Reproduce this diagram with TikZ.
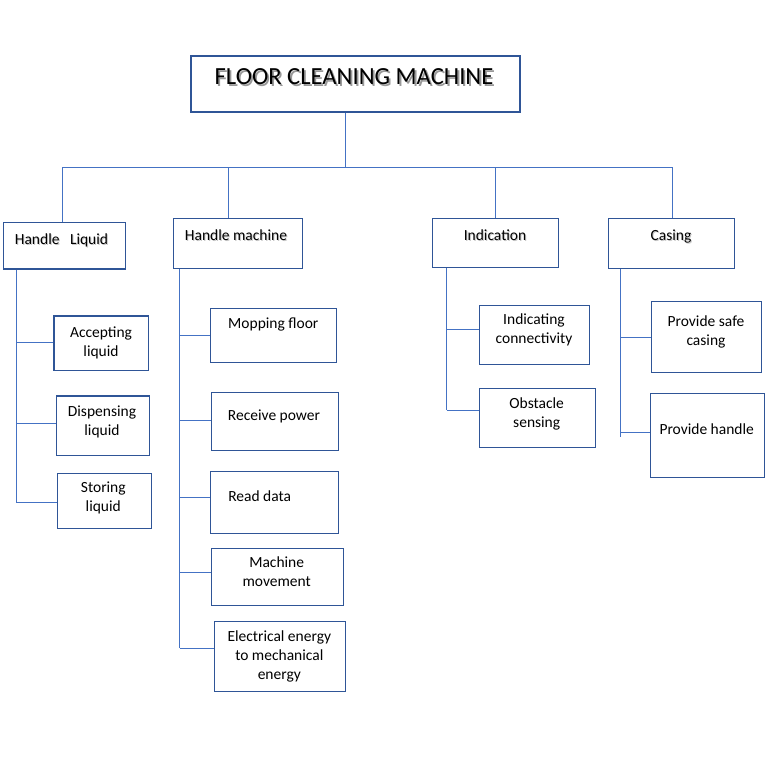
\documentclass[tikz,border=0pt]{standalone}
\usepackage{fontspec}
\setmainfont{Carlito}
\usetikzlibrary{fit}
\definecolor{boxblue}{HTML}{2F5597}
\definecolor{linkblue}{HTML}{4472C4}
\begin{document}
\begin{tikzpicture}[x=1pt,y=-1pt,
  box/.style={draw=boxblue, line width=1.1pt, inner sep=0pt, fit={#1}},
  link/.style={draw=linkblue, line width=1pt},
  lbl/.style={font=\fontsize{15.5}{19}\selectfont, align=center, anchor=base, inner sep=0pt},
  hdr/.style={lbl},
  hdrshadow/.style={lbl, text=black!22},
  ttl/.style={font=\fontsize{24.6}{28}\selectfont, anchor=base, inner sep=0pt},
  ttlshadow/.style={ttl, text=black!40}]
\useasboundingbox (0,0) rectangle (774,775);

% boxes
\node[box={(191,56) (520,112)}] (title) {};
\node[box={(3.3,222.3) (125.3,269)}] (hl) {};
\node[box={(173.3,218.3) (302.3,268.3)}] (hm) {};
\node[box={(432.3,218.3) (558.3,267.3)}] (ind) {};
\node[box={(608.3,218.3) (734.3,268.3)}] (cas) {};
\node[box={(54,316) (148.7,370.3)}] (acc) {};
\node[box={(56.3,396) (149.3,455.3)}] (dis) {};
\node[box={(57.3,473.3) (151.7,528.3)}] (sto) {};
\node[box={(210.3,308.3) (336.3,362.3)}] (mop) {};
\node[box={(211.3,392.3) (338.7,450.3)}] (rec) {};
\node[box={(210.3,471.3) (338.7,533.3)}] (read) {};
\node[box={(211.3,548.3) (343.3,605.3)}] (mov) {};
\node[box={(214.3,621.3) (345.3,691.3)}] (elec) {};
\node[box={(479.3,305.7) (589.3,364.3)}] (con) {};
\node[box={(479.3,388.3) (595.3,447.3)}] (obs) {};
\node[box={(651.7,301.7) (761.7,372.3)}] (safe) {};
\node[box={(650.3,393.3) (764.7,477.3)}] (hdl) {};

% title and headings (with a soft drop shadow)
\node[ttlshadow] (title-s) at (355.8,86.8) {FLOOR CLEANING MACHINE};
\node[ttl] (title-t) at (354,85) {FLOOR CLEANING MACHINE};
\node[hdrshadow] (hl-s) at (62.5,246) {Handle\ \ \ Liquid};
\node[hdr] (hl-t) at (61.5,245) {Handle\ \ \ Liquid};
\node[hdrshadow] (hm-s) at (237,242) {Handle machine};
\node[hdr] (hm-t) at (236,241) {Handle machine};
\node[hdrshadow] (ind-s) at (496,242) {Indication};
\node[hdr] (ind-t) at (495,241) {Indication};
\node[hdrshadow] (cas-s) at (672,242) {Casing};
\node[hdr] (cas-t) at (671,241) {Casing};

% leaf labels (base anchor sits on the last line)
\node[lbl] (acc-t) at (101,356.3) {Accepting\\liquid};
\node[lbl] (dis-t) at (102,435.7) {Dispensing\\liquid};
\node[lbl] (sto-t) at (103.3,511.7) {Storing\\liquid};
\node[lbl] (mop-t) at (273.3,328.3) {Mopping floor};
\node[lbl] (rec-t) at (274,420.7) {Receive power};
\node[lbl] (read-t) at (259.7,501) {Read data};
\node[lbl] (mov-t) at (276.7,586.3) {Machine\\movement};
\node[lbl] (elec-t) at (279.3,679.7) {Electrical energy\\to mechanical\\energy};
\node[lbl] (con-t) at (534,343.3) {Indicating\\connectivity};
\node[lbl] (obs-t) at (536.7,427.3) {Obstacle\\sensing};
\node[lbl] (safe-t) at (706,345) {Provide safe\\casing};
\node[lbl] (hdl-t) at (706.7,434.3) {Provide handle};

% top-level bus
\coordinate (bus) at (345,168);
\coordinate (bus-hl) at (62.6,168);
\coordinate (bus-hm) at (228.3,168);
\coordinate (bus-ind) at (495,168);
\coordinate (bus-cas) at (672,168);
\draw[link] (title.south -| bus) -- (bus);
\draw[link] (hl.north -| bus-hl) -- (bus-hl) -- (bus-cas) -- (cas.north -| bus-cas);
\draw[link] (hm.north -| bus-hm) -- (bus-hm);
\draw[link] (ind.north -| bus-ind) -- (bus-ind);

% Handle Liquid branch
\coordinate (hl-a) at (16,342.7);
\coordinate (hl-b) at (16,423.3);
\coordinate (hl-c) at (16,502.3);
\draw[link] (hl.south -| hl-a) -- (hl-c);
\draw[link] (hl-a) -- (acc.west |- hl-a);
\draw[link] (hl-b) -- (dis.west |- hl-b);
\draw[link] (hl-c) -- (sto.west |- hl-c);

% Handle machine branch
\coordinate (hm-a) at (179.7,335.3);
\coordinate (hm-b) at (179.7,420.7);
\coordinate (hm-c) at (179.7,497.3);
\coordinate (hm-d) at (179.7,572.3);
\coordinate (hm-e) at (179.7,648.3);
\draw[link] (hm.south -| hm-a) -- (hm-e);
\draw[link] (hm-a) -- (mop.west |- hm-a);
\draw[link] (hm-b) -- (rec.west |- hm-b);
\draw[link] (hm-c) -- (read.west |- hm-c);
\draw[link] (hm-d) -- (mov.west |- hm-d);
\draw[link] (hm-e) -- (elec.west |- hm-e);

% Indication branch
\coordinate (ind-a) at (446.7,329.3);
\coordinate (ind-b) at (446.7,410.3);
\draw[link] (ind.south -| ind-a) -- (ind-b);
\draw[link] (ind-a) -- (con.west |- ind-a);
\draw[link] (ind-b) -- (obs.west |- ind-b);

% Casing branch
\coordinate (cas-a) at (620.5,337);
\coordinate (cas-b) at (620.5,432.7);
\coordinate (cas-end) at (620.5,436.7);
\draw[link] (cas.south -| cas-a) -- (cas-end);
\draw[link] (cas-a) -- (safe.west |- cas-a);
\draw[link] (cas-b) -- (hdl.west |- cas-b);
\end{tikzpicture}
\end{document}
